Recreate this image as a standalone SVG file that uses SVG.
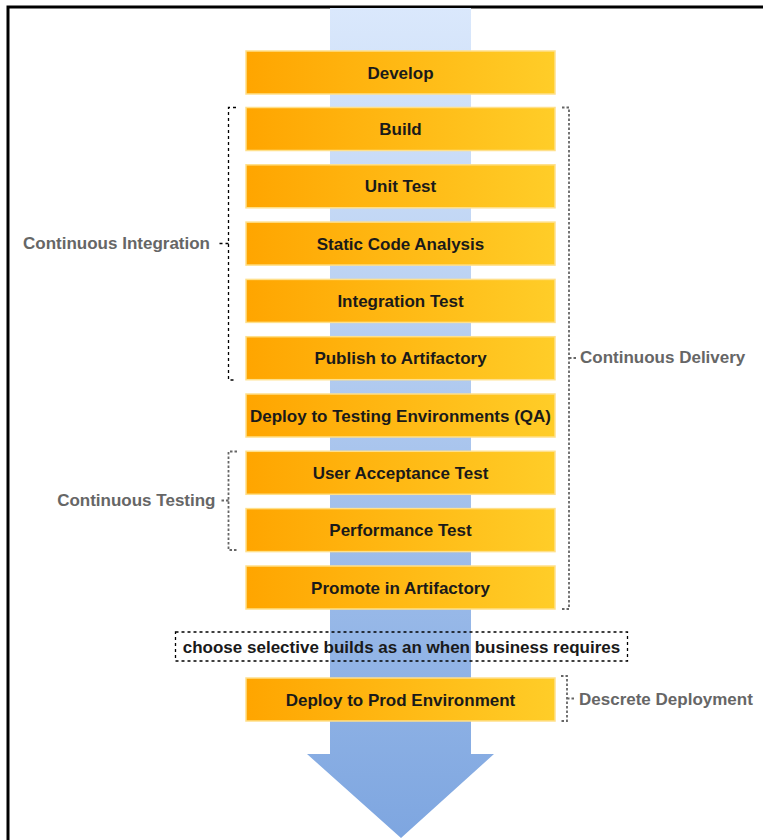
<svg xmlns="http://www.w3.org/2000/svg" width="763" height="840" viewBox="0 0 763 840">
<style>
.box{stroke:#ffe08a;stroke-width:1.5;fill:url(#og)}
.bt{font-family:"Liberation Sans",Arial,sans-serif;font-size:17px;font-weight:bold;fill:#1a1a1a;text-anchor:middle}
.lbl{font-family:"Liberation Sans",Arial,sans-serif;font-size:17px;font-weight:bold;fill:#666666}
.br1{fill:none;stroke:#000;stroke-width:1.3;stroke-dasharray:3 3}
.br2{fill:none;stroke:#666;stroke-width:1.8;stroke-dasharray:2.5 2}
</style>
<defs>
<linearGradient id="og" x1="0" y1="0" x2="1" y2="0">
<stop offset="0" stop-color="#ffa500"/>
<stop offset="1" stop-color="#ffcd28"/>
</linearGradient>
<linearGradient id="bg" gradientUnits="userSpaceOnUse" x1="0" y1="8" x2="0" y2="838">
<stop offset="0" stop-color="#dae8fc"/>
<stop offset="1" stop-color="#7ea6e0"/>
</linearGradient>
</defs>
<rect x="0" y="0" width="763" height="840" fill="#ffffff"/>
<rect x="8" y="7" width="820" height="900" fill="none" stroke="#000" stroke-width="3"/>
<g id="flow-arrow">
<path d="M330,8 H471 V754 H494 L401,838 L307,754 H330 Z" fill="url(#bg)"/>
</g>
<g id="develop"><rect class="box" x="246" y="51" width="309" height="43"/><text class="bt" x="400.5" y="78.5">Develop</text></g>
<g id="build"><rect class="box" x="246" y="107.5" width="309" height="43"/><text class="bt" x="400.5" y="135">Build</text></g>
<g id="unit-test"><rect class="box" x="246" y="164.8" width="309" height="43"/><text class="bt" x="400.5" y="192.3">Unit Test</text></g>
<g id="static-code-analysis"><rect class="box" x="246" y="222.1" width="309" height="43"/><text class="bt" x="400.5" y="249.6">Static Code Analysis</text></g>
<g id="integration-test"><rect class="box" x="246" y="279.4" width="309" height="43"/><text class="bt" x="400.5" y="306.9">Integration Test</text></g>
<g id="publish"><rect class="box" x="246" y="336.7" width="309" height="43"/><text class="bt" x="400.5" y="364.2">Publish to Artifactory</text></g>
<g id="deploy-qa"><rect class="box" x="246" y="394" width="309" height="43"/><text class="bt" x="400.5" y="421.5">Deploy to Testing Environments (QA)</text></g>
<g id="uat"><rect class="box" x="246" y="451.3" width="309" height="43"/><text class="bt" x="400.5" y="478.8">User Acceptance Test</text></g>
<g id="performance-test"><rect class="box" x="246" y="508.6" width="309" height="43"/><text class="bt" x="400.5" y="536.1">Performance Test</text></g>
<g id="promote"><rect class="box" x="246" y="566" width="309" height="43"/><text class="bt" x="400.5" y="593.5">Promote in Artifactory</text></g>
<g id="choose-builds"><rect x="175.5" y="632" width="452" height="29" fill="none" stroke="#000" stroke-width="1.3" stroke-dasharray="3 3"/><text class="bt" x="401.5" y="653">choose selective builds as an when business requires</text></g>
<g id="deploy-prod"><rect class="box" x="246" y="678" width="309" height="43"/><text class="bt" x="400.5" y="705.5">Deploy to Prod Environment</text></g>
<g id="connectors">
<path class="br1" d="M236,107.5 H228.5 V380 H236 M228.5,243.5 H218"/>
<path class="br2" d="M562,107.5 H569 V609 H562 M569,358 H576"/>
<path class="br2" d="M237,451.5 H228.5 V550 H237 M228.5,500.5 H220"/>
<path class="br2" d="M561,676 H567 V721 H561 M567,698.5 H575"/>
</g>
<g id="label-ci"><text class="lbl" x="210" y="249" text-anchor="end">Continuous Integration</text></g>
<g id="label-cd"><text class="lbl" x="580" y="363">Continuous Delivery</text></g>
<g id="label-ct"><text class="lbl" x="215.5" y="506" text-anchor="end">Continuous Testing</text></g>
<g id="label-dd"><text class="lbl" x="579" y="704.5">Descrete Deployment</text></g>
</svg>
